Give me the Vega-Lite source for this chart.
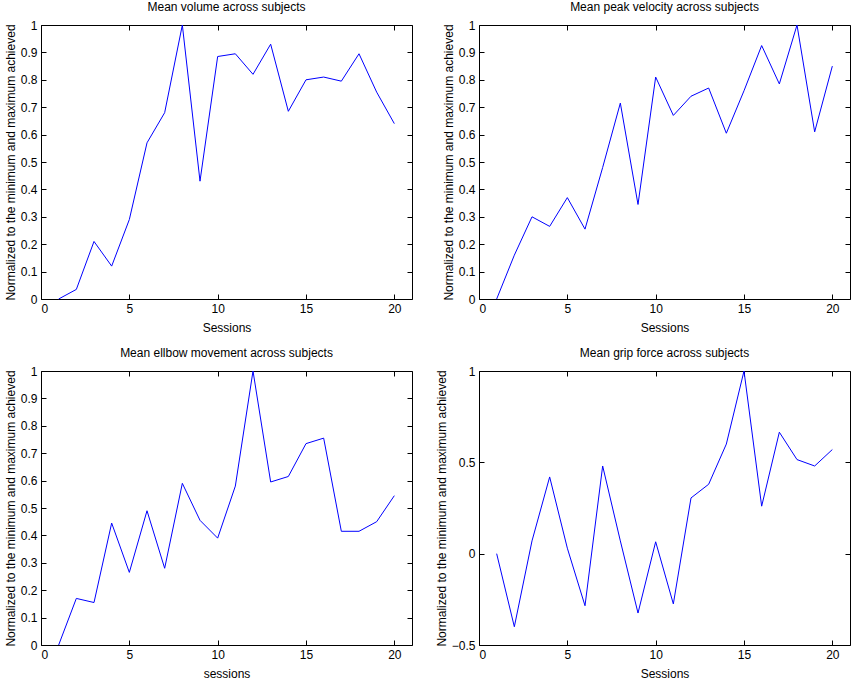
{
  "$schema": "https://vega.github.io/schema/vega-lite/v6.json",
  "description": "Four normalized session measures across subjects",
  "padding": {"left": 3, "top": 0, "right": 0, "bottom": 0},
  "background": "white",
  "datasets": {
    "volume": [
      {"session": 1, "value": 0}, {"session": 2, "value": 0.035}, {"session": 3, "value": 0.21},
      {"session": 4, "value": 0.12}, {"session": 5, "value": 0.29}, {"session": 6, "value": 0.57},
      {"session": 7, "value": 0.68}, {"session": 8, "value": 1.0}, {"session": 9, "value": 0.43},
      {"session": 10, "value": 0.885}, {"session": 11, "value": 0.895}, {"session": 12, "value": 0.82},
      {"session": 13, "value": 0.93}, {"session": 14, "value": 0.685}, {"session": 15, "value": 0.80},
      {"session": 16, "value": 0.81}, {"session": 17, "value": 0.795}, {"session": 18, "value": 0.895},
      {"session": 19, "value": 0.755}, {"session": 20, "value": 0.64}
    ],
    "velocity": [
      {"session": 1, "value": 0}, {"session": 2, "value": 0.16}, {"session": 3, "value": 0.30},
      {"session": 4, "value": 0.265}, {"session": 5, "value": 0.37}, {"session": 6, "value": 0.255},
      {"session": 7, "value": 0.48}, {"session": 8, "value": 0.715}, {"session": 9, "value": 0.345},
      {"session": 10, "value": 0.81}, {"session": 11, "value": 0.67}, {"session": 12, "value": 0.74},
      {"session": 13, "value": 0.77}, {"session": 14, "value": 0.605}, {"session": 15, "value": 0.76},
      {"session": 16, "value": 0.925}, {"session": 17, "value": 0.785}, {"session": 18, "value": 1.0},
      {"session": 19, "value": 0.61}, {"session": 20, "value": 0.85}
    ],
    "elbow": [
      {"session": 1, "value": 0}, {"session": 2, "value": 0.17}, {"session": 3, "value": 0.155},
      {"session": 4, "value": 0.445}, {"session": 5, "value": 0.265}, {"session": 6, "value": 0.49},
      {"session": 7, "value": 0.28}, {"session": 8, "value": 0.59}, {"session": 9, "value": 0.455},
      {"session": 10, "value": 0.39}, {"session": 11, "value": 0.58}, {"session": 12, "value": 1.0},
      {"session": 13, "value": 0.595}, {"session": 14, "value": 0.615}, {"session": 15, "value": 0.735},
      {"session": 16, "value": 0.755}, {"session": 17, "value": 0.415}, {"session": 18, "value": 0.415},
      {"session": 19, "value": 0.45}, {"session": 20, "value": 0.545}
    ],
    "grip": [
      {"session": 1, "value": 0}, {"session": 2, "value": -0.40}, {"session": 3, "value": 0.07},
      {"session": 4, "value": 0.42}, {"session": 5, "value": 0.03}, {"session": 6, "value": -0.285},
      {"session": 7, "value": 0.48}, {"session": 8, "value": 0.07}, {"session": 9, "value": -0.325},
      {"session": 10, "value": 0.065}, {"session": 11, "value": -0.275}, {"session": 12, "value": 0.305},
      {"session": 13, "value": 0.38}, {"session": 14, "value": 0.6}, {"session": 15, "value": 1.0},
      {"session": 16, "value": 0.26}, {"session": 17, "value": 0.665}, {"session": 18, "value": 0.515},
      {"session": 19, "value": 0.48}, {"session": 20, "value": 0.57}
    ]
  },
  "columns": 2,
  "spacing": {"column": 21, "row": 12},
  "concat": [
    {
      "title": "Mean volume across subjects",
      "width": 371, "height": 274,
      "data": {"name": "volume"},
      "layer": [
        {
          "mark": {"type": "line", "color": "#0000ff", "strokeWidth": 1},
          "encoding": {
            "x": {"field": "session", "type": "quantitative", "scale": {"domain": [0, 21], "nice": false},
                  "axis": {"title": "Sessions", "values": [0, 5, 10, 15, 20]}},
            "y": {"field": "value", "type": "quantitative", "scale": {"domain": [0, 1], "nice": false},
                  "axis": {"title": "Normalized to the minimum and maximum achieved", "values": [0, 0.1, 0.2, 0.3, 0.4, 0.5, 0.6, 0.7, 0.8, 0.9, 1], "format": "~g"}}
          }
        },
        {
          "mark": {"type": "line", "opacity": 0},
          "encoding": {
            "x": {"field": "session", "type": "quantitative", "axis": {"orient": "top", "labels": false, "title": null, "values": [0, 5, 10, 15, 20]}},
            "y": {"field": "value", "type": "quantitative", "axis": {"orient": "right", "labels": false, "title": null, "values": [0, 0.1, 0.2, 0.3, 0.4, 0.5, 0.6, 0.7, 0.8, 0.9, 1]}}
          }
        }
      ],
      "resolve": {"axis": {"x": "independent", "y": "independent"}}
    },
    {
      "title": "Mean peak velocity across subjects",
      "width": 371, "height": 274,
      "data": {"name": "velocity"},
      "layer": [
        {
          "mark": {"type": "line", "color": "#0000ff", "strokeWidth": 1},
          "encoding": {
            "x": {"field": "session", "type": "quantitative", "scale": {"domain": [0, 21], "nice": false},
                  "axis": {"title": "Sessions", "values": [0, 5, 10, 15, 20]}},
            "y": {"field": "value", "type": "quantitative", "scale": {"domain": [0, 1], "nice": false},
                  "axis": {"title": "Normalized to the minimum and maximum achieved", "values": [0, 0.1, 0.2, 0.3, 0.4, 0.5, 0.6, 0.7, 0.8, 0.9, 1], "format": "~g"}}
          }
        },
        {
          "mark": {"type": "line", "opacity": 0},
          "encoding": {
            "x": {"field": "session", "type": "quantitative", "axis": {"orient": "top", "labels": false, "title": null, "values": [0, 5, 10, 15, 20]}},
            "y": {"field": "value", "type": "quantitative", "axis": {"orient": "right", "labels": false, "title": null, "values": [0, 0.1, 0.2, 0.3, 0.4, 0.5, 0.6, 0.7, 0.8, 0.9, 1]}}
          }
        }
      ],
      "resolve": {"axis": {"x": "independent", "y": "independent"}}
    },
    {
      "title": "Mean ellbow movement across subjects",
      "width": 371, "height": 274,
      "data": {"name": "elbow"},
      "layer": [
        {
          "mark": {"type": "line", "color": "#0000ff", "strokeWidth": 1},
          "encoding": {
            "x": {"field": "session", "type": "quantitative", "scale": {"domain": [0, 21], "nice": false},
                  "axis": {"title": "sessions", "values": [0, 5, 10, 15, 20]}},
            "y": {"field": "value", "type": "quantitative", "scale": {"domain": [0, 1], "nice": false},
                  "axis": {"title": "Normalized to the minimum and maximum achieved", "values": [0, 0.1, 0.2, 0.3, 0.4, 0.5, 0.6, 0.7, 0.8, 0.9, 1], "format": "~g"}}
          }
        },
        {
          "mark": {"type": "line", "opacity": 0},
          "encoding": {
            "x": {"field": "session", "type": "quantitative", "axis": {"orient": "top", "labels": false, "title": null, "values": [0, 5, 10, 15, 20]}},
            "y": {"field": "value", "type": "quantitative", "axis": {"orient": "right", "labels": false, "title": null, "values": [0, 0.1, 0.2, 0.3, 0.4, 0.5, 0.6, 0.7, 0.8, 0.9, 1]}}
          }
        }
      ],
      "resolve": {"axis": {"x": "independent", "y": "independent"}}
    },
    {
      "title": "Mean grip force across subjects",
      "width": 371, "height": 274,
      "data": {"name": "grip"},
      "layer": [
        {
          "mark": {"type": "line", "color": "#0000ff", "strokeWidth": 1},
          "encoding": {
            "x": {"field": "session", "type": "quantitative", "scale": {"domain": [0, 21], "nice": false},
                  "axis": {"title": "Sessions", "values": [0, 5, 10, 15, 20]}},
            "y": {"field": "value", "type": "quantitative", "scale": {"domain": [-0.5, 1], "nice": false},
                  "axis": {"title": "Normalized to the minimum and maximum achieved", "values": [-0.5, 0, 0.5, 1], "format": "~g"}}
          }
        },
        {
          "mark": {"type": "line", "opacity": 0},
          "encoding": {
            "x": {"field": "session", "type": "quantitative", "axis": {"orient": "top", "labels": false, "title": null, "values": [0, 5, 10, 15, 20]}},
            "y": {"field": "value", "type": "quantitative", "axis": {"orient": "right", "labels": false, "title": null, "values": [-0.5, 0, 0.5, 1]}}
          }
        }
      ],
      "resolve": {"axis": {"x": "independent", "y": "independent"}}
    }
  ],
  "config": {
    "view": {"stroke": "black", "strokeWidth": 1},
    "axis": {
      "domain": false,
      "grid": false,
      "tickColor": "black",
      "tickSize": -5,
      "labelPadding": 9,
      "labelColor": "black",
      "labelFont": "Liberation Sans",
      "labelFontSize": 12,
      "titleColor": "black",
      "titleFont": "Liberation Sans",
      "titleFontSize": 12,
      "titleFontWeight": "normal"
    },
    "axisY": {"titlePadding": 3},
    "axisX": {"titlePadding": 8},
    "title": {"font": "Liberation Sans", "fontSize": 12, "fontWeight": "normal", "color": "black", "offset": 5}
  }
}
